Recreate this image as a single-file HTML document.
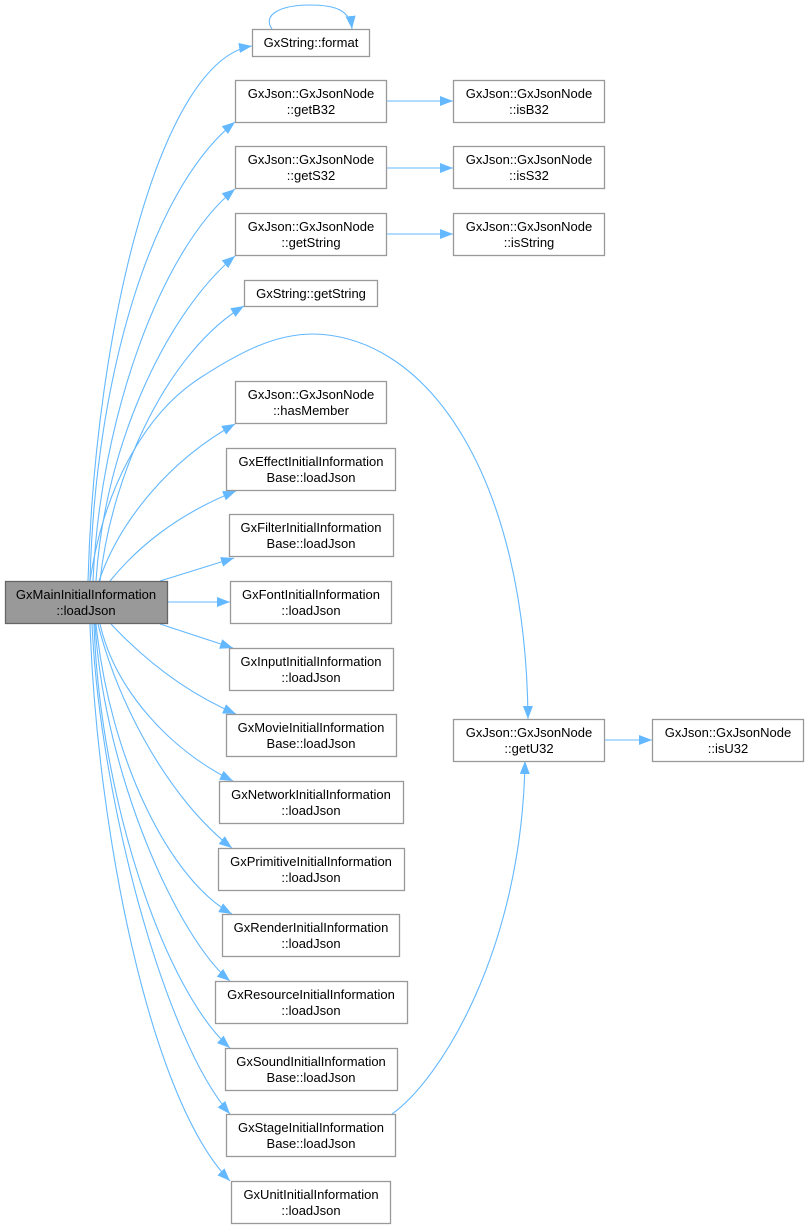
<!DOCTYPE html>
<html>
<head>
<meta charset="utf-8">
<style>
html,body{margin:0;padding:0;background:#fff;}
svg{display:block;}
text{font-family:"Liberation Sans",Arial,sans-serif;font-size:13px;fill:#000;text-anchor:middle;}
.n{fill:#fff;stroke:#999;stroke-width:1.3;}
.m{fill:#999;stroke:#666;stroke-width:1.3;}
.e{fill:none;stroke:#63b8ff;stroke-width:1.1;}
</style>
</head>
<body>
<svg width="808" height="1229" viewBox="0 0 808 1229" xmlns="http://www.w3.org/2000/svg">
<defs>
<marker id="a" markerUnits="userSpaceOnUse" markerWidth="14" markerHeight="11" refX="13" refY="5" orient="auto">
<path d="M0,0 L13,5 L0,10 z" fill="#63b8ff"/>
</marker>
</defs>

<!-- edges -->
<g class="e" marker-end="url(#a)">
<path d="M88,581 C95,330 160,60 252,46"/>
<path d="M90,581 C95,380 150,190 235,122"/>
<path d="M93,581 C100,420 160,250 235,189"/>
<path d="M96,581 C105,440 170,310 235,256"/>
<path d="M100,581 C112,470 170,350 244,306"/>
<path d="M90,581 C105,480 150,410 200,378 C240,352 275,334 313,334 C430,336 526,480 528,719"/>
<path d="M99,581 C120,520 170,460 235,424"/>
<path d="M110,581 C135,550 175,515 236,491"/>
<path d="M160,581 L234,558"/>
<path d="M167,602 L230,602"/>
<path d="M160,624 L233,648"/>
<path d="M111,624 C140,655 180,690 236,714"/>
<path d="M100,624 C115,690 170,750 233,781"/>
<path d="M98,624 C118,705 170,800 232,848"/>
<path d="M96,624 C110,760 170,880 232,914"/>
<path d="M95,624 C105,780 180,940 230,981"/>
<path d="M94,624 C100,800 165,990 230,1048"/>
<path d="M92,624 C100,800 165,1040 230,1114"/>
<path d="M90,624 C97,830 150,1100 230,1181"/>
<path d="M392,1114 C440,1080 522,950 525,761"/>
<path d="M386,101 L453,101"/>
<path d="M386,168 L453,168"/>
<path d="M386,234 L453,234"/>
<path d="M604,740 L652,740"/>
<path d="M272,29 C262,15 280,5 310,5 C335,5 350,10 352,29"/>
</g>

<!-- nodes -->
<rect class="m" x="5.5" y="581.5" width="162" height="42"/>
<text x="86" y="599">GxMainInitialInformation</text>
<text x="86" y="615">::loadJson</text>

<rect class="n" x="252.5" y="29.5" width="117" height="27"/>
<text x="311" y="47">GxString::format</text>

<rect class="n" x="235.5" y="80.5" width="151" height="42"/>
<text x="311" y="98">GxJson::GxJsonNode</text>
<text x="311" y="114">::getB32</text>

<rect class="n" x="235.5" y="146.5" width="151" height="42"/>
<text x="311" y="164">GxJson::GxJsonNode</text>
<text x="311" y="180">::getS32</text>

<rect class="n" x="235.5" y="213.5" width="151" height="42"/>
<text x="311" y="231">GxJson::GxJsonNode</text>
<text x="311" y="247">::getString</text>

<rect class="n" x="244.5" y="280.5" width="133" height="26"/>
<text x="311" y="298">GxString::getString</text>

<rect class="n" x="235.5" y="381.5" width="151" height="42"/>
<text x="311" y="399">GxJson::GxJsonNode</text>
<text x="311" y="415">::hasMember</text>

<rect class="n" x="226.5" y="448.5" width="169" height="42"/>
<text x="311" y="466">GxEffectInitialInformation</text>
<text x="311" y="482">Base::loadJson</text>

<rect class="n" x="229.5" y="514.5" width="164" height="42"/>
<text x="311" y="532">GxFilterInitialInformation</text>
<text x="311" y="548">Base::loadJson</text>

<rect class="n" x="230.5" y="581.5" width="161" height="42"/>
<text x="311" y="599">GxFontInitialInformation</text>
<text x="311" y="615">::loadJson</text>

<rect class="n" x="229.5" y="648.5" width="164" height="42"/>
<text x="311" y="666">GxInputInitialInformation</text>
<text x="311" y="682">::loadJson</text>

<rect class="n" x="226.5" y="714.5" width="170" height="42"/>
<text x="311" y="732">GxMovieInitialInformation</text>
<text x="311" y="748">Base::loadJson</text>

<rect class="n" x="219.5" y="781.5" width="184" height="42"/>
<text x="311" y="799">GxNetworkInitialInformation</text>
<text x="311" y="815">::loadJson</text>

<rect class="n" x="218.5" y="848.5" width="186" height="42"/>
<text x="311" y="866">GxPrimitiveInitialInformation</text>
<text x="311" y="882">::loadJson</text>

<rect class="n" x="222.5" y="914.5" width="177" height="42"/>
<text x="311" y="932">GxRenderInitialInformation</text>
<text x="311" y="948">::loadJson</text>

<rect class="n" x="215.5" y="981.5" width="192" height="42"/>
<text x="311" y="999">GxResourceInitialInformation</text>
<text x="311" y="1015">::loadJson</text>

<rect class="n" x="225.5" y="1048.5" width="172" height="42"/>
<text x="311" y="1066">GxSoundInitialInformation</text>
<text x="311" y="1082">Base::loadJson</text>

<rect class="n" x="226.5" y="1114.5" width="169" height="42"/>
<text x="311" y="1132">GxStageInitialInformation</text>
<text x="311" y="1148">Base::loadJson</text>

<rect class="n" x="231.5" y="1181.5" width="159" height="42"/>
<text x="311" y="1199">GxUnitInitialInformation</text>
<text x="311" y="1215">::loadJson</text>

<rect class="n" x="453.5" y="80.5" width="151" height="42"/>
<text x="529" y="98">GxJson::GxJsonNode</text>
<text x="529" y="114">::isB32</text>

<rect class="n" x="453.5" y="146.5" width="151" height="42"/>
<text x="529" y="164">GxJson::GxJsonNode</text>
<text x="529" y="180">::isS32</text>

<rect class="n" x="453.5" y="213.5" width="151" height="42"/>
<text x="529" y="231">GxJson::GxJsonNode</text>
<text x="529" y="247">::isString</text>

<rect class="n" x="453.5" y="719.5" width="151" height="42"/>
<text x="529" y="737">GxJson::GxJsonNode</text>
<text x="529" y="753">::getU32</text>

<rect class="n" x="652.5" y="719.5" width="151" height="42"/>
<text x="728" y="737">GxJson::GxJsonNode</text>
<text x="728" y="753">::isU32</text>
</svg>
</body>
</html>
